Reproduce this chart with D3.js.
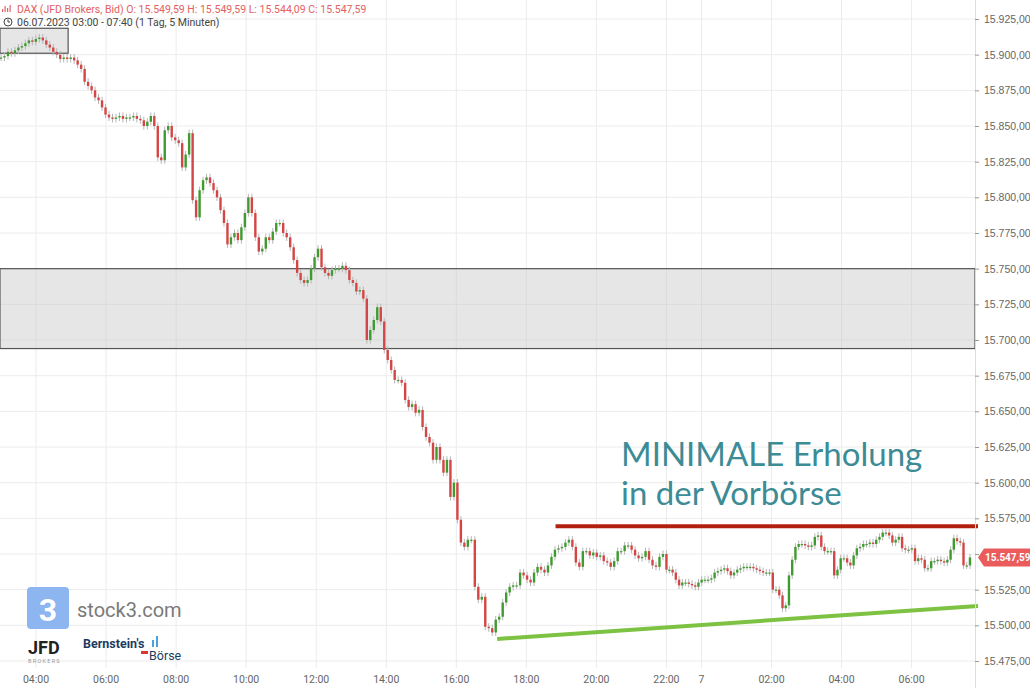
<!DOCTYPE html>
<html><head><meta charset="utf-8">
<script src="https://cdn.jsdelivr.net/npm/d3@7"></script>
<style>body{margin:0;background:#fff}svg{display:block;font-family:Roboto,"Liberation Sans",sans-serif}</style>
</head><body><svg id="c" width="1030" height="688"></svg>
<script>
// 5-minute closes (opens = previous close)
const day6Closes = [15898,15899,15902,15901,15903,15905,15906,15908,15910,15909,15911,15912,15910,15907,15905,15902,15900,15897,15898,15897,15898,15896,15893,15890,15881,15878,15875,15870,15868,15863,15858,15856,
15855,15856,15857,15855,15856,15856,15857,15855,15854,15850,15853,15857,
15850,15828,15826,15847,15850,15842,15840,15838,15821,15830,15845,15798,15786,15805,15812,15814,15810,15805,15800,15791,15782,15767,15772,15775,15770,15779,15789,15800,15789,15772,15762,15764,15772,15770,15776,15782,15782,15775,15772,15765,15756,15747,15742,15740,15742,15750,15758,15764,15751,15747,15745,15749,15750,15750,15752,15749,15742,15740,15734,15735,15729,15700,15707,15714,15723,15713,15693,15686,15679,15672,15672,15670,15658,15653,15655,15649,15651,15639,15632,15628,15616,15625,15616,15607,15616,15590,15600,15574,15558,15555,15560,15560,15527,15518,15520,15499,15498,15495,15504,15506,15516,15523,15527,15528,15528,15537,15535,15532,15530,15537,15541,15539,15537,15542,15548,15553,15554,15555,15558,15560,15555,15544,15541,15552,15552,15549,15551,15548,15549,15545,15544,15541,15545,15552,15552,15556,15556,15553,15549,15547,15548,15552,15546,15542,15541,15548,15550,15539];
const day7Closes = [15539,15537,15532,15528,15530,15530,15529,15528,15527,15530,15532,15532,15532,15533,15537,15538,15539,15540,15538,15535,15537,15539,15540,15541,15541,15541,15540,15539,15538,15537,15537,15537,15525,15525,15521,15512,15514,15535,15546,15555,15557,15557,15556,15555,15556,15562,15563,15555,15552,15552,15552,15535,15539,15547,15547,15544,15542,15549,15554,15555,15557,15557,15558,15557,15560,15562,15565,15565,15563,15558,15560,15562,15554,15553,15553,15554,15545,15547,15546,15540,15540,15545,15545,15546,15545,15544,15546,15553,15561,15559,15558,15542,15542,15547.59];
// trading minutes since 06.07 03:00 (22:00-23:00 closed)
const day6Span = [0, 1140], day7Span = [1145, 1660];
const tickMinutes = [60,180,300,420,540,660,780,900,1020,1140,1200,1320,1440,1560];
const tickLabels = ["04:00","06:00","08:00","10:00","12:00","14:00","16:00","18:00","20:00","22:00","7","02:00","04:00","06:00"];
const priceTicks = d3.range(15475, 15926, 25);
const zones = [{t0:0,t1:115,p0:15918.5,p1:15901},{t0:0,t1:1730,p0:15750,p1:15694}];
const resistance = {t0:950, t1:1730, p:15569.5};
const support = {t0:850, t1:1730, p0:15490.5, p1:15513.5};
const lastPrice = 15547.59;

const svg = d3.select("#c");
const x = d3.scaleLinear().domain([0, 1720]).range([1, 1005]);
const y = d3.scaleLinear().domain([15475, 15925]).range([661, 19]);
const plotRight = 975;
const fmt = v => d3.format(",.2f")(v).replace(/,/g,"#").replace(".",",").replace(/#/g,".");

const bars = [];
let prev = day6Closes[0];
const push = (arr, span) => arr.forEach((c, i) => {
  const t = span[0] + (span[1]-span[0]) * i / (arr.length-1);
  bars.push({t, o: prev, c}); prev = c;
});
push(day6Closes, day6Span); push(day7Closes, day7Span);

// grid
svg.append("g").selectAll("line").data(priceTicks).join("line")
  .attr("x1",0).attr("x2",plotRight).attr("y1",d=>y(d)).attr("y2",d=>y(d)).attr("stroke","#ececec");
svg.append("g").selectAll("line").data(tickMinutes).join("line")
  .attr("x1",d=>x(d)).attr("x2",d=>x(d)).attr("y1",0).attr("y2",668).attr("stroke","#ececec");

// zones
svg.append("g").selectAll("rect").data(zones).join("rect")
  .attr("x",d=>x(d.t0)-1).attr("width",d=>Math.min(x(d.t1),plotRight)-x(d.t0)+1)
  .attr("y",d=>y(d.p0)).attr("height",d=>y(d.p1)-y(d.p0))
  .attr("fill","rgba(200,200,200,0.45)").attr("stroke","#555").attr("stroke-width",1.2);

// candles
const g = svg.append("g");
g.selectAll("line").data(bars).join("line")
  .attr("x1",d=>x(d.t)).attr("x2",d=>x(d.t))
  .attr("y1",d=>y(Math.max(d.o,d.c)+2.5)).attr("y2",d=>y(Math.min(d.o,d.c)-2.5))
  .attr("stroke","#b5b5b5").attr("stroke-width",1);
g.selectAll("rect").data(bars).join("rect")
  .attr("x",d=>x(d.t)-1.2).attr("width",2.4)
  .attr("y",d=>y(Math.max(d.o,d.c)))
  .attr("height",d=>Math.max(1.2, Math.abs(y(d.o)-y(d.c))))
  .attr("fill",d=>d.c>=d.o?"#3f9b2f":"#d64545");

// trend lines
svg.append("line").attr("x1",x(resistance.t0)).attr("x2",plotRight+3)
  .attr("y1",y(resistance.p)).attr("y2",y(resistance.p)).attr("stroke","#b3200e").attr("stroke-width",4);
svg.append("line").attr("x1",x(support.t0)).attr("x2",plotRight+3)
  .attr("y1",y(support.p0)).attr("y2",y(support.p1)).attr("stroke","#7dc242").attr("stroke-width",4);

// right axis
svg.append("line").attr("x1",plotRight+0.5).attr("x2",plotRight+0.5).attr("y1",0).attr("y2",688).attr("stroke","#ddd");
const ya = svg.append("g").attr("transform",`translate(${plotRight},0)`)
  .call(d3.axisRight(y).tickValues(priceTicks).tickSize(4).tickPadding(5).tickFormat(fmt));
ya.select(".domain").remove();
ya.selectAll("line").attr("stroke","#999");
ya.selectAll("text").attr("fill","#666").attr("font-size",10.5);
ya.selectAll(".tick").filter(d => Math.abs(y(d)-y(lastPrice)) < 10).select("text").remove();

// last price tag
const lp = svg.append("g").attr("transform",`translate(978,${y(lastPrice)})`);
lp.append("path").attr("d","M0,0 L6,-9 L52,-9 L52,9 L6,9 Z").attr("fill","#ea5b5b");
lp.append("text").attr("x",7).attr("y",4).attr("fill","#fff").attr("font-size",10).attr("font-weight","bold").text(fmt(lastPrice));

// x axis labels
svg.append("g").selectAll("text").data(tickMinutes).join("text")
  .attr("x",d=>x(d)).attr("y",683).attr("text-anchor","middle").attr("fill","#666").attr("font-size",10.5)
  .text((d,i)=>tickLabels[i]);

// header
const ic = svg.append("g").attr("fill","#e26262");
[[2,9,1.2,3],[4.5,6,1.2,6],[7,8,1.2,4],[9.5,5,1.2,7]].forEach(r =>
  ic.append("rect").attr("x",r[0]).attr("y",r[1]).attr("width",r[2]).attr("height",r[3]));
svg.append("text").attr("x",17).attr("y",13).attr("fill","#e26262").attr("font-size",10.5)
  .text("DAX (JFD Brokers, Bid)  O: 15.549,59  H: 15.549,59  L: 15.544,09  C: 15.547,59");
svg.append("circle").attr("cx",8).attr("cy",22).attr("r",4).attr("fill","none").attr("stroke","#444");
svg.append("path").attr("d","M8,19.5 V22 H10").attr("fill","none").attr("stroke","#444");
svg.append("text").attr("x",17).attr("y",26).attr("fill","#444").attr("font-size",10.5)
  .text("06.07.2023 03:00 - 07:40   (1 Tag, 5 Minuten)");

// annotation
const ann = svg.append("text").attr("fill","#3c8b95").attr("font-family","Lato, sans-serif").attr("font-size",33);
ann.append("tspan").attr("x",621).attr("y",466).text("MINIMALE Erholung");
ann.append("tspan").attr("x",621).attr("y",505).text("in der Vorbörse");

// logos
svg.append("rect").attr("x",27).attr("y",587).attr("width",42).attr("height",42).attr("rx",4).attr("fill","#8db5ef");
svg.append("text").attr("x",48).attr("y",621).attr("text-anchor","middle").attr("fill","#fff").attr("font-size",32).attr("font-weight","bold").text("3");
svg.append("text").attr("x",77).attr("y",617).attr("fill","#7a7a7a").attr("font-size",20).text("stock3.com");
svg.append("text").attr("x",28).attr("y",654).attr("fill","#222").attr("font-size",18).attr("font-weight","bold").text("JFD");
svg.append("text").attr("x",28).attr("y",663).attr("fill","#999").attr("font-size",5.5).attr("letter-spacing",1.3).text("BROKERS");
svg.append("text").attr("x",83).attr("y",648).attr("fill","#1d3b5e").attr("font-size",12.5).attr("font-weight","bold").text("Bernstein's");
svg.append("text").attr("x",149).attr("y",660).attr("fill","#1d3b5e").attr("font-size",12.5).text("Börse");
svg.append("rect").attr("x",141).attr("y",651).attr("width",7).attr("height",3).attr("fill","#d33");
svg.append("rect").attr("x",152).attr("y",640).attr("width",2).attr("height",7).attr("fill","#4aa3e0");
svg.append("rect").attr("x",156).attr("y",636).attr("width",2).attr("height",11).attr("fill","#4aa3e0");
</script></body></html>
